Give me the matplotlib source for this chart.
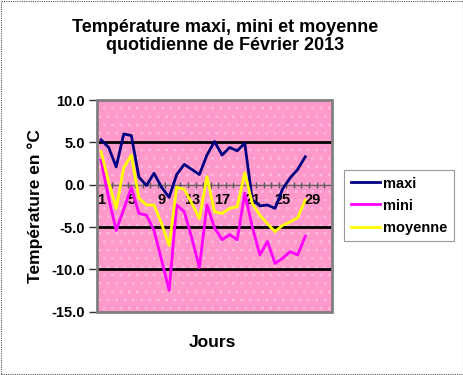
import numpy as np
import matplotlib
matplotlib.use('Agg')
import matplotlib.pyplot as plt
from matplotlib.patches import Rectangle

#%% Data (February 2013, days 1-28)

days = list(range(1, 29))
maxi = [5.3, 4.4, 2.1, 6.0, 5.8, 0.9, -0.1, 1.35, -0.3, -1.5,
        1.2, 2.4, 1.8, 1.2, 3.5, 5.1, 3.5, 4.4, 4.0, 4.9,
        -1.8, -2.5, -2.4, -2.8, -0.5, 0.8, 1.8, 3.3]
mini = [2.9, -1.6, -5.4, -2.9, -0.3, -3.4, -3.6, -5.4, -8.9, -12.5,
        -2.4, -3.2, -6.3, -9.8, -2.4, -5.1, -6.5, -5.9, -6.5, -1.0,
        -5.0, -8.3, -6.7, -9.3, -8.7, -7.9, -8.3, -6.1]
moyenne = [3.9, 0.3, -2.8, 2.0, 3.5, -1.6, -2.4, -2.4, -4.6, -7.2,
           -0.3, -0.55, -2.2, -4.0, 0.95, -3.2, -3.4, -2.8, -2.6, 1.4,
           -2.2, -3.6, -4.6, -5.55, -4.8, -4.4, -3.9, -1.8]

y_ticks = [10, 5, 0, -5, -10, -15]
x_labels = [1, 5, 9, 13, 17, 21, 25, 29]

#%% Figure

plt.rcParams['font.family'] = ['Liberation Sans', 'DejaVu Sans']
plt.rcParams['font.weight'] = 'bold'
plt.rcParams['hatch.linewidth'] = 0.7

fig = plt.figure(figsize=(4.64, 3.75), dpi=100)
ax = fig.add_axes([0.2097, 0.1688, 0.5052, 0.5645])

ax.set_xlim(0.5, 31.5)
ax.set_ylim(-15, 10)

# pink dotted plot area
ax.set_facecolor('#FF99CC')
ax.add_patch(Rectangle((0, 0), 1, 1, transform=ax.transAxes, facecolor='none',
                       edgecolor='#FFBCDE', hatch='..', linewidth=0, zorder=0))
ax.add_patch(Rectangle((0, 0), 1, 1, transform=ax.transAxes, fill=False,
                       edgecolor='#808080', linewidth=2, clip_on=False, zorder=5))

for g in [5, -5, -10]:
    ax.axhline(g, color='black', linewidth=2, zorder=1)

ax.plot(days, maxi, color='#000080', linewidth=2, label='maxi', zorder=3)
ax.plot(days, mini, color='#FF00FF', linewidth=2, label='mini', zorder=3)
ax.plot(days, moyenne, color='#FFFF00', linewidth=2, label='moyenne', zorder=3)

# axes
for s in ['top', 'right']:
    ax.spines[s].set_visible(False)
ax.spines['left'].set_color('#555555')
ax.spines['bottom'].set_position(('data', 0))
ax.spines['bottom'].set_color('#606060')
ax.spines['bottom'].set_linewidth(1)

ax.set_yticks(y_ticks)
ax.set_yticklabels(['%.1f' % v for v in y_ticks], fontsize=10.5, fontweight='bold')
ax.tick_params(axis='y', direction='out', length=6, width=1, color='#333333', pad=3)

ax.set_xticks(x_labels)
ax.set_xticklabels([str(v) for v in x_labels], fontsize=10.5, fontweight='bold')
ax.set_xticks(np.arange(0.5, 32, 1), minor=True)
ax.tick_params(axis='x', which='major', length=0, pad=6)
ax.tick_params(axis='x', which='minor', direction='inout', length=5, width=1,
               color='#555555')

ax.set_ylabel('Température en °C', fontsize=12.5, fontweight='bold', labelpad=6)
ax.set_xlabel('Jours', fontsize=12.5, fontweight='bold')
ax.xaxis.set_label_coords(0.49, -0.11)

fig.text(0.486, 0.902, 'Température maxi, mini et moyenne\nquotidienne de Février 2013',
         ha='center', va='center', fontsize=13, fontweight='bold', linespacing=1.1)

leg = fig.legend(loc='upper left', bbox_to_anchor=(344 / 464, 1 - 170 / 375),
                 borderaxespad=0, frameon=True, fancybox=False, fontsize=10.5,
                 handlelength=2.0, handletextpad=0.2, labelspacing=0.55,
                 borderpad=0.45)
leg.get_frame().set_edgecolor('#808080')
leg.get_frame().set_linewidth(0.8)
for t in leg.get_texts():
    t.set_fontweight('bold')

# dotted outer border of the chart area
fig.add_artist(Rectangle((0.002, 0.003), 0.995, 0.994, transform=fig.transFigure,
                         fill=False, edgecolor='#555555', linewidth=0.8,
                         linestyle=(0, (1, 1))))

fig.savefig('out.png', dpi=100)
